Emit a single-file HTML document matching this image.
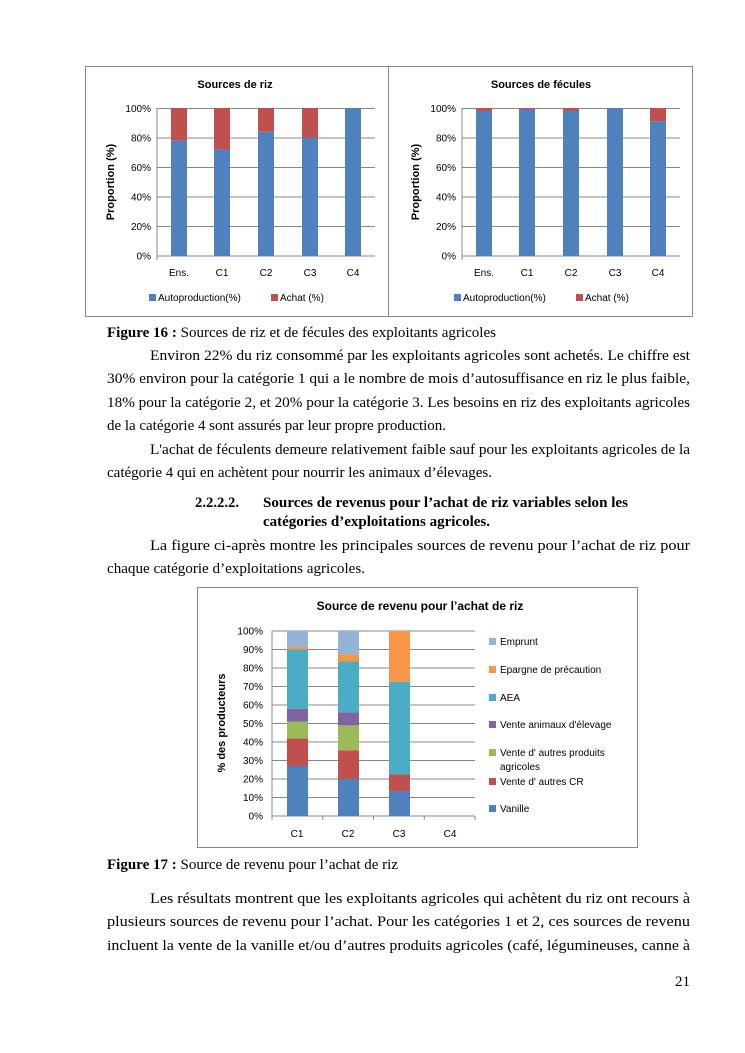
<!DOCTYPE html>
<html><head><meta charset="utf-8"><style>
html,body{margin:0;padding:0;background:#fff;}
svg{display:block;}
.c{font-family:"Liberation Sans",sans-serif;fill:#000;}
.t{font-family:"Liberation Serif",serif;font-size:15px;fill:#000;}
</style></head><body>
<svg width="745" height="1053" viewBox="0 0 745 1053" xmlns="http://www.w3.org/2000/svg">
<rect width="745" height="1053" fill="#fff"/>
<!-- Top charts box -->
<rect x="85.5" y="66.5" width="607" height="250" fill="none" stroke="#888" stroke-width="1"/>
<line x1="388.5" y1="66" x2="388.5" y2="316" stroke="#888"/>
<g class="c">
<!-- Left chart -->
<text x="235" y="88" font-size="11" font-weight="bold" text-anchor="middle">Sources de riz</text>
<g stroke="#888" stroke-width="1">
<line x1="157" y1="108.5" x2="375" y2="108.5"/><line x1="157" y1="138" x2="375" y2="138"/><line x1="157" y1="167.5" x2="375" y2="167.5"/><line x1="157" y1="197" x2="375" y2="197"/><line x1="157" y1="226.5" x2="375" y2="226.5"/><line x1="157" y1="256" x2="375" y2="256"/>
<line x1="157" y1="108" x2="157" y2="260"/>
</g>
<g font-size="10" text-anchor="end"><text x="151" y="112">100%</text><text x="151" y="141.5">80%</text><text x="151" y="171">60%</text><text x="151" y="200.5">40%</text><text x="151" y="230">20%</text><text x="151" y="259.5">0%</text></g>
<text transform="translate(114,182) rotate(-90)" font-size="11" font-weight="bold" text-anchor="middle">Proportion (%)</text>
<g fill="#4f81bd"><rect x="171" y="140.6" width="16" height="115.4"/><rect x="214" y="149.4" width="16" height="106.6"/><rect x="258" y="131.7" width="16" height="124.3"/><rect x="302" y="137.6" width="16" height="118.4"/><rect x="345" y="108" width="16" height="148"/></g>
<g fill="#c0504d"><rect x="171" y="108" width="16" height="32.6"/><rect x="214" y="108" width="16" height="41.4"/><rect x="258" y="108" width="16" height="23.7"/><rect x="302" y="108" width="16" height="29.6"/></g>
<g font-size="10" text-anchor="middle"><text x="179" y="276">Ens.</text><text x="222" y="276">C1</text><text x="266" y="276">C2</text><text x="310" y="276">C3</text><text x="353" y="276">C4</text></g>
<rect x="149" y="294" width="7" height="7" fill="#4f81bd"/><text x="158" y="301" font-size="10">Autoproduction(%)</text>
<rect x="271" y="294" width="7" height="7" fill="#c0504d"/><text x="280" y="301" font-size="10">Achat (%)</text>
<!-- Right chart -->
<text x="541" y="88" font-size="11" font-weight="bold" text-anchor="middle">Sources de fécules</text>
<g stroke="#888" stroke-width="1">
<line x1="462" y1="108.5" x2="680" y2="108.5"/><line x1="462" y1="138" x2="680" y2="138"/><line x1="462" y1="167.5" x2="680" y2="167.5"/><line x1="462" y1="197" x2="680" y2="197"/><line x1="462" y1="226.5" x2="680" y2="226.5"/><line x1="462" y1="256" x2="680" y2="256"/>
<line x1="462" y1="108" x2="462" y2="260"/>
</g>
<g font-size="10" text-anchor="end"><text x="456" y="112">100%</text><text x="456" y="141.5">80%</text><text x="456" y="171">60%</text><text x="456" y="200.5">40%</text><text x="456" y="230">20%</text><text x="456" y="259.5">0%</text></g>
<text transform="translate(419,182) rotate(-90)" font-size="11" font-weight="bold" text-anchor="middle">Proportion (%)</text>
<g fill="#4f81bd"><rect x="476" y="111" width="16" height="145"/><rect x="519" y="109.5" width="16" height="146.5"/><rect x="563" y="111" width="16" height="145"/><rect x="607" y="108" width="16" height="148"/><rect x="650" y="121.3" width="16" height="134.7"/></g>
<g fill="#c0504d"><rect x="476" y="108" width="16" height="3"/><rect x="519" y="108" width="16" height="1.5"/><rect x="563" y="108" width="16" height="3"/><rect x="650" y="108" width="16" height="13.3"/></g>
<g font-size="10" text-anchor="middle"><text x="484" y="276">Ens.</text><text x="527" y="276">C1</text><text x="571" y="276">C2</text><text x="615" y="276">C3</text><text x="658" y="276">C4</text></g>
<rect x="454" y="294" width="7" height="7" fill="#4f81bd"/><text x="463" y="301" font-size="10">Autoproduction(%)</text>
<rect x="576" y="294" width="7" height="7" fill="#c0504d"/><text x="585" y="301" font-size="10">Achat (%)</text>
</g>

<!-- Bottom chart -->
<rect x="197.5" y="587.5" width="440" height="260" fill="none" stroke="#888"/>
<g class="c">
<text x="420" y="610" font-size="12" font-weight="bold" text-anchor="middle">Source de revenu pour l’achat de riz</text>
<g stroke="#888" stroke-width="1">
<line x1="272" y1="631" x2="475" y2="631"/><line x1="272" y1="649.5" x2="475" y2="649.5"/><line x1="272" y1="668" x2="475" y2="668"/><line x1="272" y1="686.5" x2="475" y2="686.5"/><line x1="272" y1="705" x2="475" y2="705"/><line x1="272" y1="723.5" x2="475" y2="723.5"/><line x1="272" y1="742" x2="475" y2="742"/><line x1="272" y1="760.5" x2="475" y2="760.5"/><line x1="272" y1="779" x2="475" y2="779"/><line x1="272" y1="797.5" x2="475" y2="797.5"/><line x1="272" y1="816" x2="475" y2="816"/>
<line x1="272" y1="631" x2="272" y2="820"/><line x1="322.75" y1="816" x2="322.75" y2="820"/><line x1="373.5" y1="816" x2="373.5" y2="820"/><line x1="424.25" y1="816" x2="424.25" y2="820"/><line x1="475" y1="816" x2="475" y2="820"/>
</g>
<g font-size="10" text-anchor="end"><text x="263" y="634.5">100%</text><text x="263" y="653">90%</text><text x="263" y="671.5">80%</text><text x="263" y="690">70%</text><text x="263" y="708.5">60%</text><text x="263" y="727">50%</text><text x="263" y="745.5">40%</text><text x="263" y="764">30%</text><text x="263" y="782.5">20%</text><text x="263" y="801">10%</text><text x="263" y="819.5">0%</text></g>
<text transform="translate(225,723) rotate(-90)" font-size="11" font-weight="bold" text-anchor="middle">% des producteurs</text>
<!-- C1 -->
<rect x="287" y="766" width="21" height="50" fill="#4f81bd"/>
<rect x="287" y="738.3" width="21" height="27.7" fill="#c0504d"/>
<rect x="287" y="721.65" width="21" height="16.65" fill="#9bbb59"/>
<rect x="287" y="708.7" width="21" height="12.95" fill="#8064a2"/>
<rect x="287" y="649.5" width="21" height="59.2" fill="#4bacc6"/>
<rect x="287" y="646.7" width="21" height="2.8" fill="#f79646"/>
<rect x="287" y="631" width="21" height="15.7" fill="#95b3d7"/>
<!-- C2 -->
<rect x="338" y="779" width="21" height="37" fill="#4f81bd"/>
<rect x="338" y="750.3" width="21" height="28.7" fill="#c0504d"/>
<rect x="338" y="725.35" width="21" height="24.95" fill="#9bbb59"/>
<rect x="338" y="712.4" width="21" height="12.95" fill="#8064a2"/>
<rect x="338" y="661.5" width="21" height="50.9" fill="#4bacc6"/>
<rect x="338" y="654.1" width="21" height="7.4" fill="#f79646"/>
<rect x="338" y="631" width="21" height="23.1" fill="#95b3d7"/>
<!-- C3 -->
<rect x="389" y="791" width="21" height="25" fill="#4f81bd"/>
<rect x="389" y="774.4" width="21" height="16.6" fill="#c0504d"/>
<rect x="389" y="681.9" width="21" height="92.5" fill="#4bacc6"/>
<rect x="389" y="631" width="21" height="50.9" fill="#f79646"/>
<g font-size="10" text-anchor="middle"><text x="297" y="837">C1</text><text x="348" y="837">C2</text><text x="399" y="837">C3</text><text x="450" y="837">C4</text></g>
<g font-size="10">
<rect x="489" y="638" width="7" height="7" fill="#95b3d7"/><text x="500" y="645">Emprunt</text>
<rect x="489" y="666" width="7" height="7" fill="#f79646"/><text x="500" y="673">Epargne de précaution</text>
<rect x="489" y="694" width="7" height="7" fill="#4bacc6"/><text x="500" y="701">AEA</text>
<rect x="489" y="721" width="7" height="7" fill="#8064a2"/><text x="500" y="728">Vente animaux d'élevage</text>
<rect x="489" y="749" width="7" height="7" fill="#9bbb59"/><text x="500" y="756">Vente d' autres produits</text><text x="500" y="770">agricoles</text>
<rect x="489" y="778" width="7" height="7" fill="#c0504d"/><text x="500" y="785">Vente d' autres CR</text>
<rect x="489" y="805" width="7" height="7" fill="#4f81bd"/><text x="500" y="812">Vanille</text>
</g>
</g>

<!-- Body text -->
<g class="t">
<text x="107" y="337" textLength="389" lengthAdjust="spacingAndGlyphs"><tspan font-weight="bold">Figure 16 :</tspan> Sources de riz et de fécules des exploitants agricoles</text>
<text x="150" y="360" textLength="540" lengthAdjust="spacingAndGlyphs">Environ 22% du riz consommé par les exploitants agricoles sont achetés. Le chiffre est</text>
<text x="107" y="383" textLength="583" lengthAdjust="spacingAndGlyphs">30% environ pour la catégorie 1 qui a le nombre de mois d’autosuffisance en riz le plus faible,</text>
<text x="107" y="407" textLength="583" lengthAdjust="spacingAndGlyphs">18% pour la catégorie 2, et 20% pour la catégorie 3. Les besoins en riz des exploitants agricoles</text>
<text x="107" y="430" textLength="339" lengthAdjust="spacingAndGlyphs">de la catégorie 4 sont assurés par leur propre production.</text>
<text x="150" y="454" textLength="540" lengthAdjust="spacingAndGlyphs">L'achat de féculents demeure relativement faible sauf pour les exploitants agricoles de la</text>
<text x="107" y="477" textLength="385" lengthAdjust="spacingAndGlyphs">catégorie 4 qui en achètent pour nourrir les animaux d’élevages.</text>
<g font-weight="bold">
<text x="195" y="507" textLength="44" lengthAdjust="spacingAndGlyphs">2.2.2.2.</text>
<text x="263" y="507" textLength="365" lengthAdjust="spacingAndGlyphs">Sources de revenus pour l’achat de riz variables selon les</text>
<text x="263" y="526" textLength="227" lengthAdjust="spacingAndGlyphs">catégories d’exploitations agricoles.</text>
</g>
<text x="150" y="550" textLength="540" lengthAdjust="spacingAndGlyphs">La figure ci-après montre les principales sources de revenu pour l’achat de riz pour</text>
<text x="107" y="573" textLength="258" lengthAdjust="spacingAndGlyphs">chaque catégorie d’exploitations agricoles.</text>
<text x="107" y="869" textLength="291" lengthAdjust="spacingAndGlyphs"><tspan font-weight="bold">Figure 17 :</tspan> Source de revenu pour l’achat de riz</text>
<text x="150" y="903" textLength="540" lengthAdjust="spacingAndGlyphs">Les résultats montrent que les exploitants agricoles qui achètent du riz ont recours à</text>
<text x="107" y="926" textLength="583" lengthAdjust="spacingAndGlyphs">plusieurs sources de revenu pour l’achat. Pour les catégories 1 et 2, ces sources de revenu</text>
<text x="107" y="950" textLength="583" lengthAdjust="spacingAndGlyphs">incluent la vente de la vanille et/ou d’autres produits agricoles (café, légumineuses, canne à</text>
<text x="690" y="986" text-anchor="end">21</text>
</g>
</svg>
</body></html>
